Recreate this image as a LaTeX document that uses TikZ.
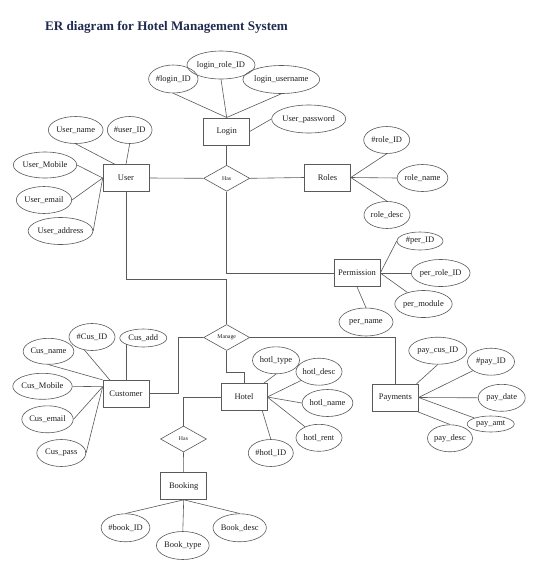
\documentclass[tikz,border=0pt]{standalone}
\usepackage{fontspec}
\setmainfont{Liberation Serif}
\usetikzlibrary{shapes.geometric}
\definecolor{lc}{RGB}{90,90,90}
\definecolor{tc}{RGB}{30,30,30}
\definecolor{titlec}{RGB}{30,42,78}
\tikzset{
  ent/.style={draw=lc, line width=0.6pt, rectangle, minimum width=46pt, minimum height=27pt, inner sep=0pt, text=tc, font=\fontsize{8.5}{10}\selectfont},
  rel/.style={draw=lc, line width=0.6pt, diamond, aspect=1.77, minimum width=46pt, minimum height=26pt, inner sep=0pt, text=tc, font=\fontsize{5.8}{6}\selectfont},
  attr/.style={draw=lc, line width=0.6pt, ellipse, inner sep=0pt, text=tc, font=\fontsize{8.5}{10}\selectfont},
  conn/.style={draw=lc, line width=0.6pt}
}
\begin{document}
\begin{tikzpicture}[x=1pt,y=-1pt]
\useasboundingbox (0,0) rectangle (534,574);
\fill[white] (0,0) rectangle (534,574);
\node[anchor=base west, inner sep=0pt, text=titlec, font=\fontsize{13.1}{15}\selectfont\bfseries] (title) at (45,30.7) {ER diagram for Hotel Management System};

% entities
\node[ent] (login) at (226.7,131.3) {Login};
\node[ent] (user) at (126,178) {User};
\node[ent] (roles) at (327.5,177.5) {Roles};
\node[ent] (perm) at (357,273) {Permission};
\node[ent] (customer) at (126,393.7) {Customer};
\node[ent] (hotel) at (244,397) {Hotel};
\node[ent] (payments) at (395.3,397.5) {Payments};
\node[ent] (booking) at (183.7,486) {Booking};

% relationships
\node[rel] (has1) at (226.7,178.3) {Has};
\node[rel] (manage) at (226.7,337.5) {Manage};
\node[rel] (has2) at (183.5,439) {Has};

% attributes
\node[attr, minimum width=44pt, minimum height=28pt] (loginid) at (173.3,79) {\#login\_ID};
\node[attr, minimum width=55pt, minimum height=28pt] (loginrole) at (221,65) {login\_role\_ID};
\node[attr, minimum width=69pt, minimum height=28pt] (loginuser) at (281.3,79.5) {login\_username};
\node[attr, minimum width=69pt, minimum height=28pt] (userpw) at (308.7,119) {User\_password};

\node[attr, minimum width=51pt, minimum height=27pt] (username) at (75.7,130) {User\_name};
\node[attr, minimum width=44pt, minimum height=27pt] (userid) at (129.7,130) {\#user\_ID};
\node[attr, minimum width=53pt, minimum height=26pt] (usermobile) at (45,165) {User\_Mobile};
\node[attr, minimum width=46pt, minimum height=27pt] (useremail) at (44,200) {User\_email};
\node[attr, minimum width=61pt, minimum height=27pt] (useraddr) at (60.5,231) {User\_address};

\node[attr, minimum width=46pt, minimum height=27pt] (roleid) at (386.7,140) {\#role\_ID};
\node[attr, minimum width=45pt, minimum height=27pt] (rolename) at (422.5,178) {role\_name};
\node[attr, minimum width=46pt, minimum height=27pt] (roledesc) at (387,215) {role\_desc};

\node[attr, minimum width=46pt, minimum height=18pt] (perid) at (420,241) {\#per\_ID};
\node[attr, minimum width=54pt, minimum height=27pt] (perrole) at (440.7,273) {per\_role\_ID};
\node[attr, minimum width=53pt, minimum height=27pt] (permod) at (423.5,304) {per\_module};
\node[attr, minimum width=54pt, minimum height=28pt] (pername) at (366,322) {per\_name};

\node[attr, minimum width=46pt, minimum height=27pt] (cusid) at (92,337) {\#Cus\_ID};
\node[attr, minimum width=47pt, minimum height=18pt] (cusadd) at (143.3,338) {Cus\_add};
\node[attr, minimum width=45pt, minimum height=26pt] (cusname) at (48.5,351.3) {Cus\_name};
\node[attr, minimum width=48pt, minimum height=26pt] (cusmobile) at (42.5,386.3) {Cus\_Mobile};
\node[attr, minimum width=48pt, minimum height=27pt] (cusemail) at (47.5,419.3) {Cus\_email};
\node[attr, minimum width=49pt, minimum height=27pt] (cuspass) at (61.3,453) {Cus\_pass};

\node[attr, minimum width=47pt, minimum height=27pt] (hotltype) at (276,360.3) {hotl\_type};
\node[attr, minimum width=45pt, minimum height=27pt] (hotldesc) at (319,371.7) {hotl\_desc};
\node[attr, minimum width=45pt, minimum height=27pt] (hotlname) at (327.5,403) {hotl\_name};
\node[attr, minimum width=46pt, minimum height=27pt] (hotlrent) at (319,437.8) {hotl\_rent};
\node[attr, minimum width=45pt, minimum height=27pt] (hotlid) at (270.8,453) {\#hotl\_ID};

\node[attr, minimum width=48pt, minimum height=27pt] (paycus) at (437.8,350.7) {pay\_cus\_ID};
\node[attr, minimum width=47pt, minimum height=27pt] (payid) at (491,361.7) {\#pay\_ID};
\node[attr, minimum width=47pt, minimum height=27pt] (paydate) at (501.7,397.8) {pay\_date};
\node[attr, minimum width=47pt, minimum height=16pt] (payamt) at (490.7,424) {pay\_amt};
\node[attr, minimum width=45pt, minimum height=27pt] (paydesc) at (450,438.3) {pay\_desc};

\node[attr, minimum width=46pt, minimum height=28pt] (bookid) at (125.5,527.8) {\#book\_ID};
\node[attr, minimum width=49pt, minimum height=28pt] (booktype) at (182.8,545.5) {Book\_type};
\node[attr, minimum width=46pt, minimum height=28pt] (bookdesc) at (239.7,527.8) {Book\_desc};

% helper points
\coordinate (cusL) at ([yshift=7pt]customer.west);

% login
\draw[conn] (loginid.south) -- (login.north);
\draw[conn] (loginrole.south) -- (login.north);
\draw[conn] (loginuser.south) -- (login.north);
\draw[conn] (userpw.west) -- (login.east);
% user
\draw[conn] (username.south) -- ([xshift=12pt]user.north west);
\draw[conn] (userid.south) -- (user.north);
\draw[conn] (usermobile.east) -- (user.west);
\draw[conn] (useremail.east) -- (user.west);
\draw[conn] (useraddr.east) -- (user.west);
% has 1
\draw[conn] (user.east) -- (has1.west);
\draw[conn] (login.south) -- (has1.north);
\draw[conn] (has1.east) -- (roles.west);
\draw[conn] (has1.south) |- (perm.west);
\draw[conn] (user.south) -- ++(0,87) -| (manage.north);
% roles
\draw[conn] (roles.east) -- (roleid.south);
\draw[conn] (roles.east) -- (rolename.west);
\draw[conn] (roles.east) -- (roledesc.north);
% permission
\draw[conn] (perm.east) -- (perid.west);
\draw[conn] (perm.east) -- (perrole.west);
\draw[conn] (perm.east) -- (permod);
\draw[conn] (perm.south) -- (pername.north);
% manage
\draw[conn] (manage.west) -- ++(-25.4,0) |- (customer.east);
\draw[conn] (manage.south) -- ++(0,21.8) -| (hotel.north);
\draw[conn] (manage.east) -| (payments.north);
% customer
\draw[conn] (cusname.south) -- (customer.north west);
\draw[conn] (cusid.240) -- ([xshift=7pt]customer.north west);
\draw[conn] (customer.north) -- ++(0,-36);
\draw[conn] (cusmobile.east) -- (cusL);
\draw[conn] (cusemail.east) -- (cusL);
\draw[conn] (cuspass.east) -- (cusL);
% hotel
\draw[conn] (hotltype.south) -- ([xshift=-3.5pt]hotel.north east);
\draw[conn] (hotel.east) -- (hotldesc);
\draw[conn] (hotel.east) -- (hotlname.west);
\draw[conn] (hotel.east) -- (hotlrent);
\draw[conn] ([xshift=-5pt]hotel.south east) -- (hotlid.north);
\draw[conn] (hotel.west) -| (has2.north);
\draw[conn] (has2.south) -- (booking.north);
% booking
\draw[conn] (booking.south) -- (bookid.north);
\draw[conn] (booking.south) -- (booktype.north);
\draw[conn] (booking.south) -- (bookdesc.north);
% payments
\draw[conn] ([xshift=-2pt]payments.north east) -- (paycus.south);
\draw[conn] (payments.east) -- (payid);
\draw[conn] (payments.east) -- (paydate.west);
\draw[conn] (payments.east) -- (payamt);
\draw[conn] ([xshift=-2pt]payments.south east) -- (paydesc.north);
\end{tikzpicture}
\end{document}
